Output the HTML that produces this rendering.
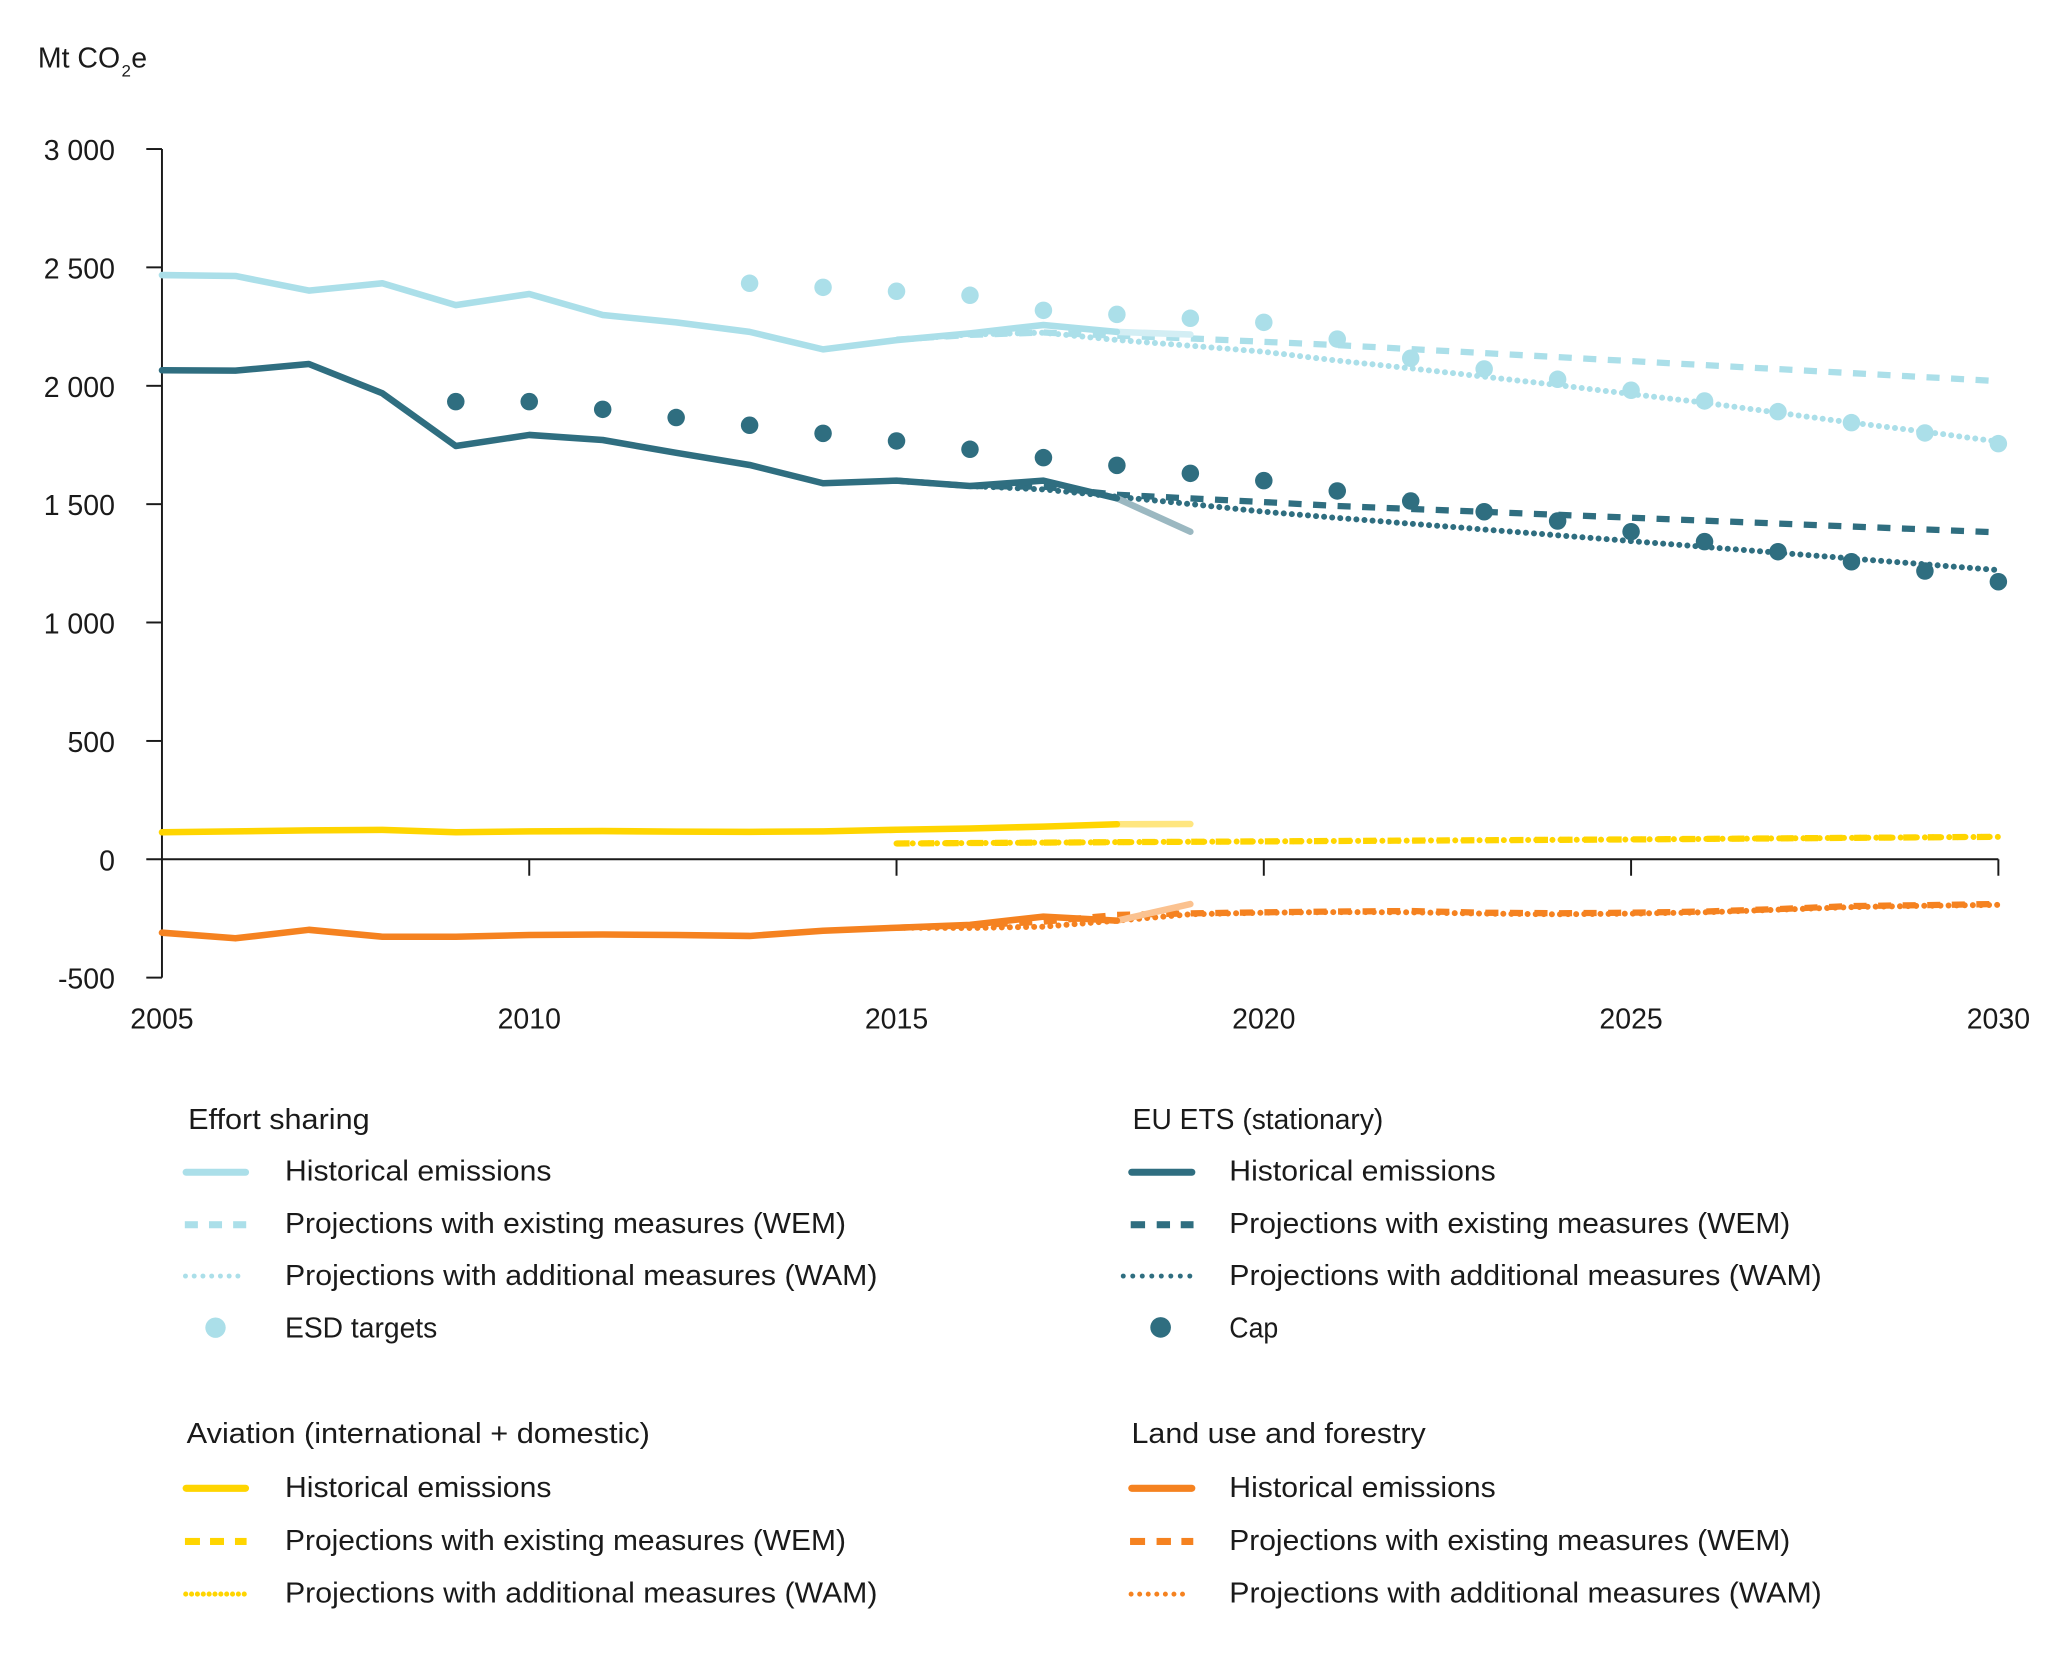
<!DOCTYPE html>
<html>
<head>
<meta charset="utf-8">
<style>
  html, body { margin: 0; padding: 0; background: #ffffff; }
  svg { display: block; }
  text { font-family: "Liberation Sans", "DejaVu Sans", sans-serif; fill: #1a1a1a; }
</style>
</head>
<body>
<svg xmlns="http://www.w3.org/2000/svg" width="2048" height="1653" viewBox="0 0 1568 1265.6" preserveAspectRatio="none">
  <rect x="0" y="0" width="1568" height="1265.6" fill="#ffffff"/>

  <!-- Unit label -->
  <text x="29" y="51.8" font-size="21.8">Mt CO</text>
  <text x="93" y="58.5" font-size="13">2</text>
  <text x="100.5" y="51.8" font-size="21.8">e</text>

  <!-- Y axis labels -->
  <g font-size="21.8" text-anchor="end">
    <text x="88" y="122.6">3 000</text>
    <text x="88" y="213.2">2 500</text>
    <text x="88" y="303.9">2 000</text>
    <text x="88" y="394.5">1 500</text>
    <text x="88" y="485.1">1 000</text>
    <text x="88" y="575.8">500</text>
    <text x="88" y="666.4">0</text>
    <text x="88" y="757">-500</text>
  </g>

  <!-- X axis labels -->
  <g font-size="21.8" text-anchor="middle">
    <text x="124" y="787.3">2005</text>
    <text x="405.2" y="787.3">2010</text>
    <text x="686.4" y="787.3">2015</text>
    <text x="967.6" y="787.3">2020</text>
    <text x="1248.8" y="787.3">2025</text>
    <text x="1530" y="787.3">2030</text>
  </g>

  <!-- Axes -->
  <g stroke="#1a1a1a" stroke-width="1.5" fill="none">
    <line x1="124" y1="114.1" x2="124" y2="748.5"/>
    <line x1="112" y1="114.1" x2="124" y2="114.1"/>
    <line x1="112" y1="204.7" x2="124" y2="204.7"/>
    <line x1="112" y1="295.4" x2="124" y2="295.4"/>
    <line x1="112" y1="386.0" x2="124" y2="386.0"/>
    <line x1="112" y1="476.6" x2="124" y2="476.6"/>
    <line x1="112" y1="567.3" x2="124" y2="567.3"/>
    <line x1="112" y1="748.5" x2="124" y2="748.5"/>
    <line x1="112" y1="657.9" x2="1530" y2="657.9"/>
    <line x1="405.2" y1="657.9" x2="405.2" y2="670.5"/>
    <line x1="686.4" y1="657.9" x2="686.4" y2="670.5"/>
    <line x1="967.6" y1="657.9" x2="967.6" y2="670.5"/>
    <line x1="1248.8" y1="657.9" x2="1248.8" y2="670.5"/>
    <line x1="1530" y1="657.9" x2="1530" y2="670.5"/>
  </g>

  <!-- Projections -->
  <g fill="none" stroke-linejoin="round">
    <!-- Effort sharing WEM -->
    <polyline stroke="#abdfe9" stroke-width="4.8" stroke-dasharray="10 8.8"
      points="686.4,260 742.64,256.4 798.88,254.6 855.12,257 911.36,259.1 967.6,261.7 1023.84,264.2 1530,291.8"/>
    <!-- Effort sharing WAM -->
    <polyline stroke="#abdfe9" stroke-width="4.6" stroke-dasharray="0 6.2" stroke-linecap="round"
      points="686.4,260.4 742.64,256.1 798.88,254.7 855.12,260.3 911.36,264.7 967.6,269.3 1023.84,276.1 1080.08,282 1136.32,288.4 1192.56,294.8 1248.8,301.7 1305.04,308.3 1361.28,316 1417.52,323.6 1473.76,330.5 1530,338.2"/>
    <!-- ETS WEM -->
    <polyline stroke="#2f6e80" stroke-width="4.8" stroke-dasharray="10 8.8"
      points="686.4,368 742.64,372.1 798.88,372.6 855.12,378.8 911.36,381.6 967.6,384.4 1023.84,387.4 1530,407.6"/>
    <!-- ETS WAM -->
    <polyline stroke="#2f6e80" stroke-width="4.6" stroke-dasharray="0 6.2" stroke-linecap="round"
      points="686.4,368 742.64,372.1 798.88,374.7 855.12,380.3 911.36,385.9 967.6,391.8 1023.84,396.5 1530,436.5"/>
    <!-- Aviation WEM -->
    <polyline stroke="#ffd500" stroke-width="4.8" stroke-dasharray="10 8.8"
      points="686.4,645.8 855.12,644.8 1023.84,643.9 1248.8,642.7 1530,640.7"/>
    <!-- Aviation WAM -->
    <polyline stroke="#ffd500" stroke-width="4.6" stroke-dasharray="0 6.2" stroke-linecap="round"
      points="686.4,645.8 855.12,644.8 1023.84,643.9 1248.8,642.7 1530,640.7"/>
    <!-- LULUCF WEM -->
    <polyline stroke="#f58220" stroke-width="4.8" stroke-dasharray="10 8.8"
      points="686.4,710.3 742.64,708.5 798.88,705.7 855.12,700.5 911.36,699.3 967.6,698.5 1023.84,697.9 1080.08,697.5 1136.32,698.8 1192.56,699.2 1248.8,698.8 1305.04,697.9 1361.28,696 1417.52,693.7 1473.76,693 1530,692.1"/>
    <!-- LULUCF WAM -->
    <polyline stroke="#f58220" stroke-width="4.6" stroke-dasharray="0 6.2" stroke-linecap="round"
      points="686.4,710.3 742.64,710.5 798.88,709.5 855.12,704.9 911.36,700 967.6,698.8 1023.84,698.3 1080.08,698.5 1136.32,699.5 1192.56,700 1248.8,699.5 1305.04,698.5 1361.28,696.5 1417.52,694.5 1473.76,693.5 1530,692.8"/>
  </g>

  <!-- Historical -->
  <g fill="none" stroke-width="5" stroke-linejoin="round" stroke-linecap="round">
    <polyline stroke="#d3eef4" points="855.12,254.1 911.36,256.1"/>
    <polyline stroke="#abdfe9"
      points="124,210.6 180.24,211.3 236.48,222.5 292.72,216.9 348.96,233.6 405.2,225.1 461.44,241.2 517.68,246.8 573.92,254.1 630.16,267.5 686.4,260.4 742.64,255.2 798.88,248.8 855.12,254.1"/>
    <polyline stroke="#9bb8c1" points="855.12,381.5 911.36,407.1"/>
    <polyline stroke="#2f6e80"
      points="124,283.5 180.24,283.8 236.48,278.7 292.72,301.1 348.96,341.5 405.2,333 461.44,336.9 517.68,346.7 573.92,356 630.16,370 686.4,368 742.64,372.1 798.88,368 855.12,381.5"/>
    <polyline stroke="#ffe680" points="855.12,631.1 911.36,630.9"/>
    <polyline stroke="#ffd500"
      points="124,637.2 180.24,636.5 236.48,635.8 292.72,635.4 348.96,637.2 405.2,636.5 461.44,636.3 517.68,636.7 573.92,636.9 630.16,636.5 686.4,635.3 742.64,634.3 798.88,632.9 855.12,631.1"/>
    <polyline stroke="#fbc290" points="855.12,704.9 911.36,692.2"/>
    <polyline stroke="#f58220"
      points="124,714.1 180.24,718.4 236.48,711.9 292.72,717.2 348.96,717.2 405.2,715.9 461.44,715.5 517.68,715.9 573.92,716.6 630.16,712.6 686.4,710.3 742.64,708.1 798.88,701.8 855.12,704.9"/>
  </g>

  <!-- ESD targets -->
  <g fill="#abdfe9">
    <circle cx="573.92" cy="216.9" r="6.7"/>
    <circle cx="630.16" cy="220" r="6.7"/>
    <circle cx="686.4" cy="223" r="6.7"/>
    <circle cx="742.64" cy="226.1" r="6.7"/>
    <circle cx="798.88" cy="237.6" r="6.7"/>
    <circle cx="855.12" cy="240.7" r="6.7"/>
    <circle cx="911.36" cy="243.7" r="6.7"/>
    <circle cx="967.6" cy="246.8" r="6.7"/>
    <circle cx="1023.84" cy="259.6" r="6.7"/>
    <circle cx="1080.08" cy="274.3" r="6.7"/>
    <circle cx="1136.32" cy="282.5" r="6.7"/>
    <circle cx="1192.56" cy="290.4" r="6.7"/>
    <circle cx="1248.8" cy="298.8" r="6.7"/>
    <circle cx="1305.04" cy="307" r="6.7"/>
    <circle cx="1361.28" cy="315.2" r="6.7"/>
    <circle cx="1417.52" cy="323.6" r="6.7"/>
    <circle cx="1473.76" cy="331.5" r="6.7"/>
    <circle cx="1530" cy="339.7" r="6.7"/>
  </g>

  <!-- Cap -->
  <g fill="#2f6e80">
    <circle cx="348.96" cy="307.5" r="6.7"/>
    <circle cx="405.2" cy="307.5" r="6.7"/>
    <circle cx="461.44" cy="313.4" r="6.7"/>
    <circle cx="517.68" cy="319.7" r="6.7"/>
    <circle cx="573.92" cy="325.6" r="6.7"/>
    <circle cx="630.16" cy="331.8" r="6.7"/>
    <circle cx="686.4" cy="337.6" r="6.7"/>
    <circle cx="742.64" cy="344" r="6.7"/>
    <circle cx="798.88" cy="350.4" r="6.7"/>
    <circle cx="855.12" cy="356.3" r="6.7"/>
    <circle cx="911.36" cy="362.4" r="6.7"/>
    <circle cx="967.6" cy="368" r="6.7"/>
    <circle cx="1023.84" cy="375.9" r="6.7"/>
    <circle cx="1080.08" cy="383.6" r="6.7"/>
    <circle cx="1136.32" cy="391.8" r="6.7"/>
    <circle cx="1192.56" cy="398.9" r="6.7"/>
    <circle cx="1248.8" cy="407.1" r="6.7"/>
    <circle cx="1305.04" cy="414.7" r="6.7"/>
    <circle cx="1361.28" cy="422.4" r="6.7"/>
    <circle cx="1417.52" cy="430.1" r="6.7"/>
    <circle cx="1473.76" cy="437.2" r="6.7"/>
    <circle cx="1530" cy="445.4" r="6.7"/>
  </g>

  <!-- ===== Legend ===== -->
  <g font-size="21.8">
    <!-- Effort sharing block -->
    <text x="144" y="864.5" textLength="139" lengthAdjust="spacingAndGlyphs">Effort sharing</text>
    <line x1="142.5" y1="897.5" x2="188" y2="897.5" stroke="#abdfe9" stroke-width="5.4" stroke-linecap="round"/>
    <text x="218.2" y="904" textLength="204" lengthAdjust="spacingAndGlyphs">Historical emissions</text>
    <g fill="#abdfe9">
      <rect x="141.5" y="935" width="10" height="5.4"/>
      <rect x="160" y="935" width="10" height="5.4"/>
      <rect x="178.5" y="935" width="10" height="5.4"/>
    </g>
    <text x="218.2" y="944" textLength="429.5" lengthAdjust="spacingAndGlyphs">Projections with existing measures (WEM)</text>
    <line x1="142" y1="977" x2="188.8" y2="977" stroke="#abdfe9" stroke-width="3.8" stroke-dasharray="0 6.69" stroke-linecap="round"/>
    <text x="218.2" y="984" textLength="453.6" lengthAdjust="spacingAndGlyphs">Projections with additional measures (WAM)</text>
    <circle cx="165" cy="1016.5" r="7.8" fill="#abdfe9"/>
    <text x="218.2" y="1024" textLength="116.6" lengthAdjust="spacingAndGlyphs">ESD targets</text>

    <!-- EU ETS block -->
    <text x="867.2" y="864.5" textLength="191.9" lengthAdjust="spacingAndGlyphs">EU ETS (stationary)</text>
    <line x1="866.5" y1="897.5" x2="912.5" y2="897.5" stroke="#2f6e80" stroke-width="5.4" stroke-linecap="round"/>
    <text x="941.2" y="904" textLength="204" lengthAdjust="spacingAndGlyphs">Historical emissions</text>
    <g fill="#2f6e80">
      <rect x="865.7" y="935" width="11" height="5.4"/>
      <rect x="885.6" y="935" width="10.2" height="5.4"/>
      <rect x="904" y="935" width="9.8" height="5.4"/>
    </g>
    <text x="941.2" y="944" textLength="429.5" lengthAdjust="spacingAndGlyphs">Projections with existing measures (WEM)</text>
    <line x1="860" y1="977" x2="911" y2="977" stroke="#2f6e80" stroke-width="3.8" stroke-dasharray="0 7.28" stroke-linecap="round"/>
    <text x="941.2" y="984" textLength="453.6" lengthAdjust="spacingAndGlyphs">Projections with additional measures (WAM)</text>
    <circle cx="888.6" cy="1016.3" r="7.9" fill="#2f6e80"/>
    <text x="941.2" y="1024" textLength="37.5" lengthAdjust="spacingAndGlyphs">Cap</text>

    <!-- Aviation block -->
    <text x="142.9" y="1105" textLength="354.7" lengthAdjust="spacingAndGlyphs">Aviation (international + domestic)</text>
    <line x1="142.5" y1="1139.5" x2="188" y2="1139.5" stroke="#ffd500" stroke-width="5.4" stroke-linecap="round"/>
    <text x="218.2" y="1146" textLength="204" lengthAdjust="spacingAndGlyphs">Historical emissions</text>
    <g fill="#ffd500">
      <rect x="141.6" y="1177.5" width="11.5" height="5.4"/>
      <rect x="160.8" y="1177.5" width="10.7" height="5.4"/>
      <rect x="179.9" y="1177.5" width="8.9" height="5.4"/>
    </g>
    <text x="218.2" y="1186.7" textLength="429.5" lengthAdjust="spacingAndGlyphs">Projections with existing measures (WEM)</text>
    <line x1="142.2" y1="1220.5" x2="187" y2="1220.5" stroke="#ffd500" stroke-width="3.9" stroke-dasharray="0 4.48" stroke-linecap="round"/>
    <text x="218.2" y="1226.8" textLength="453.6" lengthAdjust="spacingAndGlyphs">Projections with additional measures (WAM)</text>

    <!-- Land use block -->
    <text x="866.3" y="1105" textLength="225.3" lengthAdjust="spacingAndGlyphs">Land use and forestry</text>
    <line x1="866.5" y1="1139.5" x2="912.5" y2="1139.5" stroke="#f58220" stroke-width="5.4" stroke-linecap="round"/>
    <text x="941.2" y="1146" textLength="204" lengthAdjust="spacingAndGlyphs">Historical emissions</text>
    <g fill="#f58220">
      <rect x="865.2" y="1177.5" width="11.5" height="5.4"/>
      <rect x="885.5" y="1177.5" width="11" height="5.4"/>
      <rect x="904.5" y="1177.5" width="9.1" height="5.4"/>
    </g>
    <text x="941.2" y="1186.7" textLength="429.5" lengthAdjust="spacingAndGlyphs">Projections with existing measures (WEM)</text>
    <line x1="866" y1="1220.5" x2="911.9" y2="1220.5" stroke="#f58220" stroke-width="3.8" stroke-dasharray="0 6.56" stroke-linecap="round"/>
    <text x="941.2" y="1226.8" textLength="453.6" lengthAdjust="spacingAndGlyphs">Projections with additional measures (WAM)</text>
  </g>
</svg>
</body>
</html>
